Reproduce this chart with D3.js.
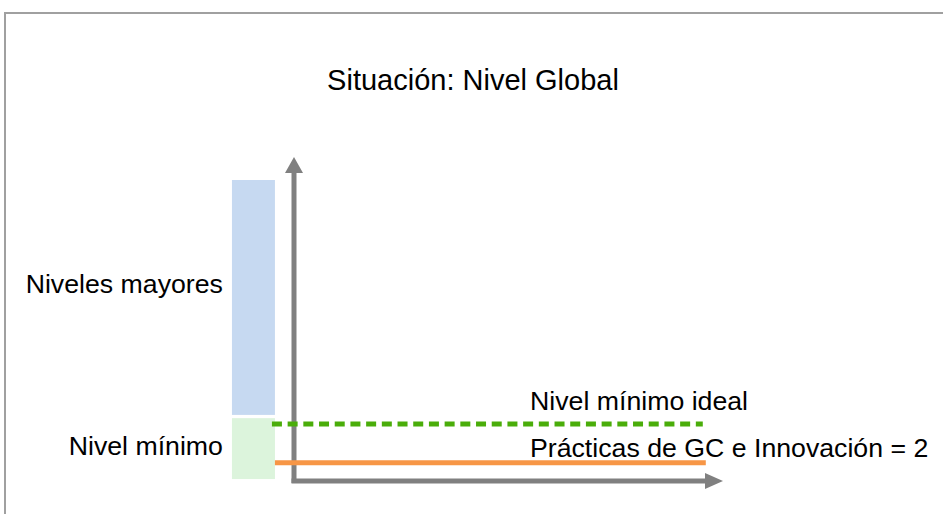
<!DOCTYPE html>
<html>
<head>
<meta charset="utf-8">
<script src="https://cdn.jsdelivr.net/npm/d3@7"></script>
<style>
  html, body { margin: 0; padding: 0; background: #fff; }
  svg { display: block; }
  text { font-family: "Liberation Sans", Arial, sans-serif; fill: #000; }
</style>
</head>
<body>
<svg id="chart" width="943" height="514"></svg>
<script>
// level bands (chart units, 0-100 on the vertical axis)
const bandNames = ["Niveles mayores", "Nivel mínimo"];
const bandFrom  = [20.4, 0.6];
const bandTo    = [92.9, 19.4];
const bandColors = ["#c6d9f1", "#dcf4dc"];

// reference lines
const lineNames  = ["Nivel mínimo ideal", "Prácticas de GC e Innovación = 2"];
const lineValues = [17.6, 5.6];
const lineStart  = [-4.9, -4.2];
const lineEnd    = [95.3, 96.0];
const lineColors = ["#4aad0a", "#f79646"];
const lineDash   = ["10,5.7", null];

const title = "Situación: Nivel Global";

const svg = d3.select("#chart");

// scales: axis origin at 0
const x = d3.scaleLinear().domain([0, 100]).range([293, 723]);
const y = d3.scaleLinear().domain([0, 100]).range([481, 157]);

// outer frame
svg.append("rect")
  .attr("x", 5).attr("y", 13)
  .attr("width", 960).attr("height", 520)
  .attr("fill", "none")
  .attr("stroke", "#a0a0a0")
  .attr("stroke-width", 2);

svg.append("text")
  .attr("x", 473).attr("y", 90)
  .attr("text-anchor", "middle")
  .style("font-size", "29px")
  .text(title);

// bands
svg.selectAll("rect.band")
  .data(bandNames)
  .enter()
  .append("rect")
  .attr("class", "band")
  .attr("x", x(-14.2))
  .attr("width", x(-4.2) - x(-14.2))
  .attr("y", (d, i) => y(bandTo[i]))
  .attr("height", (d, i) => y(bandFrom[i]) - y(bandTo[i]))
  .attr("fill", (d, i) => bandColors[i]);

const bandLabelY = [293, 455];
svg.selectAll("text.band")
  .data(bandNames)
  .enter()
  .append("text")
  .attr("class", "band")
  .attr("x", x(-14.2) - 9)
  .attr("y", (d, i) => bandLabelY[i])
  .attr("text-anchor", "end")
  .style("font-size", "26.7px")
  .text(d => d);

// axes with arrow heads
const axisColor = "#808080";
svg.append("line")
  .attr("x1", x(0) + 1).attr("x2", x(0) + 1)
  .attr("y1", y(0) + 2).attr("y2", y(100) + 14)
  .attr("stroke", axisColor).attr("stroke-width", 5);
svg.append("path")
  .attr("d", `M${x(0) + 1},${y(100)} L${x(0) + 10},${y(100) + 16} L${x(0) - 8},${y(100) + 16} Z`)
  .attr("fill", axisColor);
svg.append("line")
  .attr("x1", x(0) - 1.5).attr("x2", x(100) - 15)
  .attr("y1", y(0)).attr("y2", y(0))
  .attr("stroke", axisColor).attr("stroke-width", 5);
svg.append("path")
  .attr("d", `M${x(100)},${y(0)} L${x(100) - 18},${y(0) - 8} L${x(100) - 18},${y(0) + 8} Z`)
  .attr("fill", axisColor);

// reference lines
svg.selectAll("line.ref")
  .data(lineNames)
  .enter()
  .append("line")
  .attr("class", "ref")
  .attr("x1", (d, i) => x(lineStart[i]))
  .attr("x2", (d, i) => x(lineEnd[i]))
  .attr("y1", (d, i) => y(lineValues[i]))
  .attr("y2", (d, i) => y(lineValues[i]))
  .attr("stroke", (d, i) => lineColors[i])
  .attr("stroke-width", 5)
  .attr("stroke-dasharray", (d, i) => lineDash[i]);

const labelGap = [14, 6];
svg.selectAll("text.ref")
  .data(lineNames)
  .enter()
  .append("text")
  .attr("class", "ref")
  .attr("x", 530)
  .attr("y", (d, i) => y(lineValues[i]) - labelGap[i])
  .style("font-size", "26.7px")
  .text(d => d);
</script>
</body>
</html>
